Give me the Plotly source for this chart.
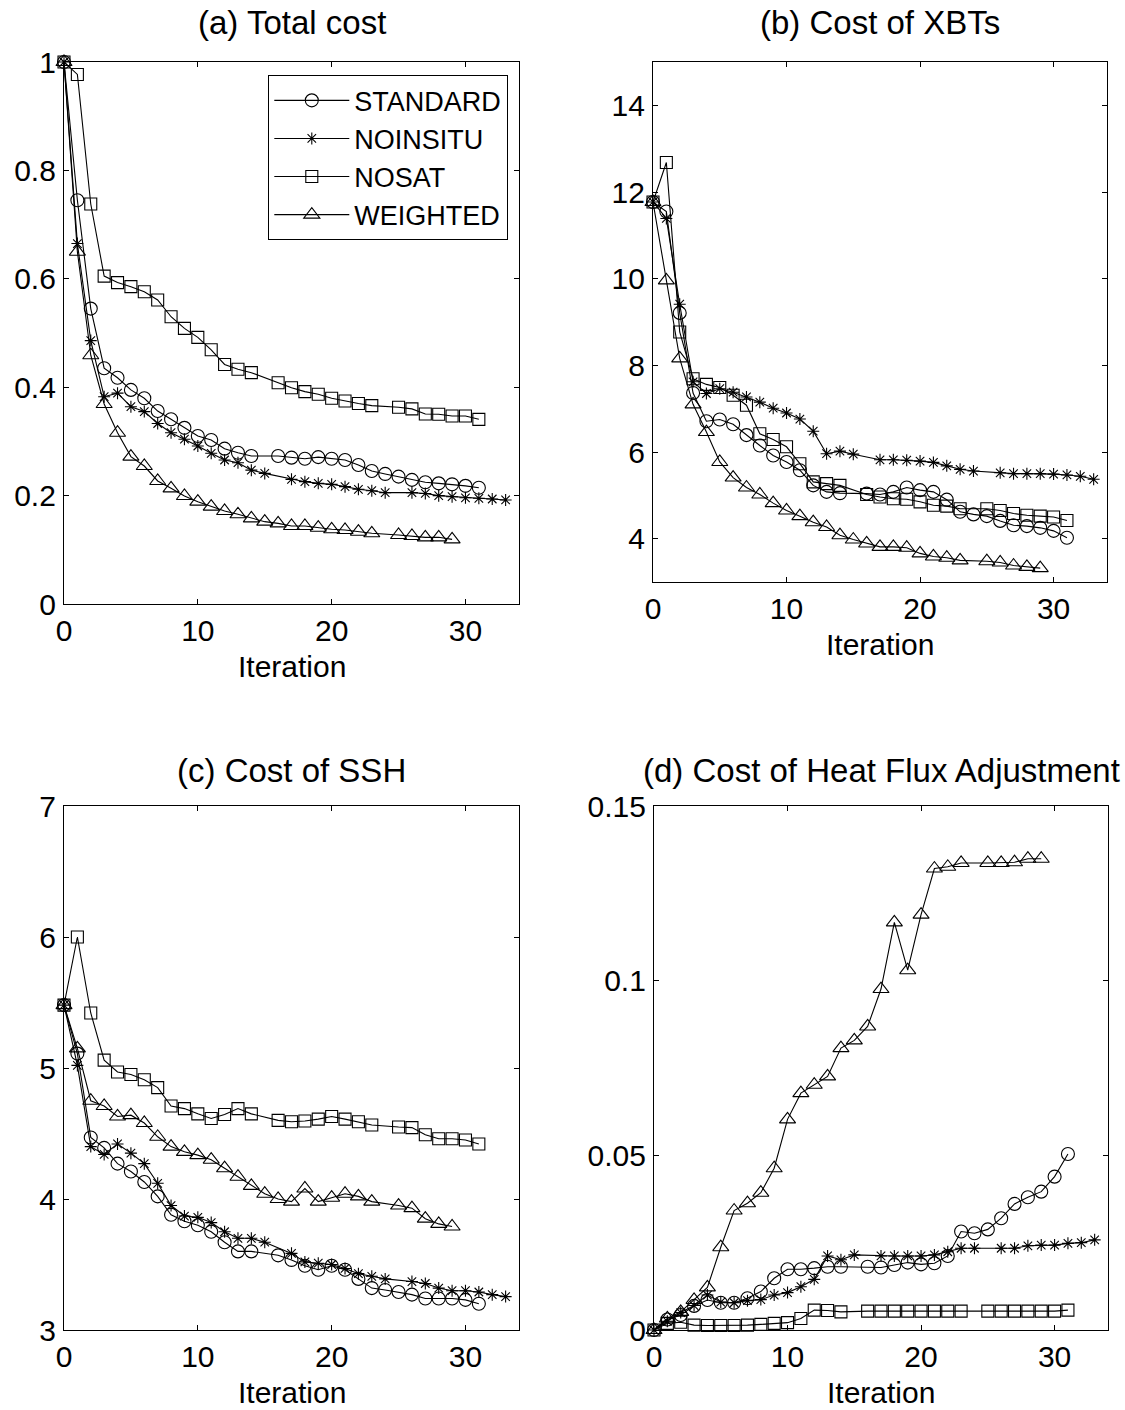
import plotly.graph_objects as go

W, H = 1125, 1410
FONT = "Liberation Sans, Arial, Helvetica, sans-serif"

# iteration indices at which each run has a stored value
it_standard = list(range(0, 15)) + list(range(16, 32))
it_noinsitu = list(range(0, 16)) + list(range(17, 25)) + list(range(26, 34))
it_nosat = list(range(0, 15)) + list(range(16, 24)) + list(range(25, 32))
it_weighted = list(range(0, 24)) + list(range(25, 30))

series_names = ["STANDARD", "NOINSITU", "NOSAT", "WEIGHTED"]

# (a) Total cost (normalised)
total_standard = [1.0, 0.745, 0.545, 0.435, 0.4175, 0.395, 0.3795, 0.356, 0.341, 0.325, 0.31, 0.3026, 0.2866, 0.279, 0.273,
                  0.273, 0.270, 0.268, 0.271, 0.268, 0.2657, 0.2565, 0.2454, 0.24, 0.235, 0.229, 0.2245, 0.2226, 0.2208, 0.218, 0.2146]
total_noinsitu = [1.0, 0.665, 0.486, 0.3825, 0.389, 0.364, 0.355, 0.333, 0.316, 0.304, 0.2915, 0.278, 0.2657, 0.2607, 0.247, 0.241,
                  0.23, 0.2257, 0.2226, 0.2208, 0.2165, 0.2116, 0.209, 0.2054,
                  0.2054, 0.204, 0.1999, 0.198, 0.196, 0.195, 0.1937, 0.192]
total_nosat = [1.0, 0.977, 0.738, 0.605, 0.593, 0.5855, 0.576, 0.561, 0.530, 0.5086, 0.492, 0.469, 0.442, 0.433, 0.4268,
               0.4083, 0.399, 0.3918, 0.387, 0.3795, 0.3745, 0.370, 0.366,
               0.363, 0.36, 0.3506, 0.35, 0.347, 0.347, 0.3407]
total_weighted = [1.0, 0.65, 0.459, 0.369, 0.316, 0.272, 0.2546, 0.227, 0.2134, 0.1993, 0.1888, 0.1796, 0.1716, 0.1655, 0.158,
                  0.1519, 0.1488, 0.1439, 0.1439, 0.1408, 0.1378, 0.1365, 0.1334, 0.1304,
                  0.1273, 0.1255, 0.123, 0.123, 0.1193]

# (b) Cost of XBTs
xbt_standard = [11.77, 11.55, 9.21, 7.36, 6.71, 6.75, 6.64, 6.39, 6.15, 5.92, 5.77, 5.58, 5.23, 5.08, 5.05,
                5.04, 5.02, 5.08, 5.18, 5.12, 5.08, 4.90, 4.62, 4.56, 4.52, 4.41, 4.31, 4.29, 4.25, 4.18, 4.02]
xbt_noinsitu = [11.77, 11.39, 9.41, 7.62, 7.35, 7.46, 7.38, 7.27, 7.15, 7.01, 6.90, 6.76, 6.48, 5.96, 6.02, 5.95,
                5.82, 5.82, 5.81, 5.79, 5.76, 5.68, 5.60, 5.56,
                5.52, 5.50, 5.50, 5.50, 5.49, 5.47, 5.44, 5.37]
xbt_nosat = [11.77, 12.68, 8.77, 7.69, 7.56, 7.49, 7.31, 7.08, 6.42, 6.29, 6.12, 5.73, 5.31, 5.27, 5.23,
             5.02, 4.96, 4.92, 4.91, 4.85, 4.77, 4.75, 4.69,
             4.69, 4.65, 4.58, 4.54, 4.52, 4.50, 4.42]
xbt_weighted = [11.77, 9.96, 8.16, 7.10, 6.46, 5.77, 5.41, 5.18, 5.02, 4.82, 4.65, 4.52, 4.38, 4.27, 4.08,
                3.98, 3.89, 3.81, 3.81, 3.79, 3.66, 3.59, 3.56, 3.50,
                3.48, 3.45, 3.38, 3.35, 3.32]

# (c) Cost of SSH
ssh_standard = [5.48, 5.11, 4.47, 4.39, 4.27, 4.21, 4.13, 4.02, 3.88, 3.83, 3.80, 3.75, 3.67, 3.60, 3.60,
                3.57, 3.535, 3.49, 3.46, 3.49, 3.46, 3.39, 3.32, 3.305, 3.29, 3.27, 3.24, 3.24, 3.24, 3.23, 3.20]
ssh_noinsitu = [5.48, 5.02, 4.40, 4.34, 4.42, 4.35, 4.27, 4.12, 3.95, 3.87, 3.86, 3.82, 3.75, 3.70, 3.70, 3.67,
                3.585, 3.52, 3.51, 3.50, 3.47, 3.43, 3.41, 3.39,
                3.37, 3.355, 3.32, 3.30, 3.30, 3.29, 3.27, 3.255]
ssh_nosat = [5.48, 6.0, 5.42, 5.06, 4.97, 4.95, 4.91, 4.85, 4.71, 4.69, 4.65, 4.615, 4.645, 4.69, 4.65,
             4.60, 4.59, 4.595, 4.61, 4.63, 4.61, 4.59, 4.565,
             4.55, 4.545, 4.49, 4.46, 4.46, 4.45, 4.42]
ssh_weighted = [5.48, 5.15, 4.75, 4.71, 4.63, 4.64, 4.58, 4.475, 4.40, 4.36, 4.335, 4.30, 4.235, 4.17, 4.10,
                4.04, 4.00, 3.98, 4.08, 3.98, 4.01, 4.04, 4.02, 3.98,
                3.95, 3.93, 3.85, 3.81, 3.79]

# (d) Cost of heat flux adjustment
hf_standard = [0.0, 0.003, 0.0043, 0.0069, 0.0086, 0.0078, 0.0078, 0.0091, 0.011, 0.0148, 0.0174, 0.0174, 0.0177, 0.0181, 0.0181,
               0.0181, 0.0179, 0.0186, 0.0193, 0.0188, 0.0191, 0.0212, 0.0282, 0.0277, 0.0288, 0.032, 0.0361, 0.038, 0.0396, 0.0439, 0.0504]
hf_noinsitu = [0.0, 0.0025, 0.005, 0.007, 0.010, 0.008, 0.0078, 0.0084, 0.0087, 0.010, 0.0107, 0.0124, 0.0145, 0.0212, 0.0201, 0.0215,
               0.0212, 0.0212, 0.0212, 0.0212, 0.0215, 0.0224, 0.0234, 0.0234,
               0.0234, 0.0234, 0.0241, 0.0243, 0.0243, 0.0248, 0.0250, 0.0258]
hf_nosat = [0.0, 0.0019, 0.0022, 0.0014, 0.0013, 0.0013, 0.0013, 0.0014, 0.0016, 0.0019, 0.0021, 0.0033, 0.0057, 0.0056, 0.0052,
            0.0054, 0.0054, 0.0054, 0.0054, 0.0054, 0.0054, 0.0054, 0.0054,
            0.0054, 0.0054, 0.0054, 0.0054, 0.0054, 0.0054, 0.0057]
hf_weighted = [0.0, 0.0033, 0.0052, 0.0086, 0.0122, 0.0237, 0.0342, 0.0363, 0.0393, 0.0463, 0.0603, 0.0678, 0.0702, 0.0726, 0.0807,
               0.0829, 0.0869, 0.0976, 0.1167, 0.1030, 0.1189, 0.1321, 0.1326, 0.1337,
               0.1337, 0.1337, 0.1339, 0.1349, 0.1349]

x_ticks = [0, 10, 20, 30]
x_range = [0, 34]

panels = [
    dict(title="(a) Total cost", data=[total_standard, total_noinsitu, total_nosat, total_weighted],
         yrange=[0, 1], yticks=[0, 0.2, 0.4, 0.6, 0.8, 1], yticktext=["0", "0.2", "0.4", "0.6", "0.8", "1"],
         box=(64, 519, 62, 604)),
    dict(title="(b) Cost of XBTs", data=[xbt_standard, xbt_noinsitu, xbt_nosat, xbt_weighted],
         yrange=[3, 15], yticks=[4, 6, 8, 10, 12, 14], yticktext=["4", "6", "8", "10", "12", "14"],
         box=(653, 1107, 62, 582)),
    dict(title="(c) Cost of SSH", data=[ssh_standard, ssh_noinsitu, ssh_nosat, ssh_weighted],
         yrange=[3, 7], yticks=[3, 4, 5, 6, 7], yticktext=["3", "4", "5", "6", "7"],
         box=(64, 519, 806, 1330)),
    dict(title="(d) Cost of Heat Flux Adjustment", data=[hf_standard, hf_noinsitu, hf_nosat, hf_weighted],
         yrange=[0, 0.15], yticks=[0, 0.05, 0.1, 0.15], yticktext=["0", "0.05", "0.1", "0.15"],
         box=(654, 1108, 806, 1330)),
]

iters = [it_standard, it_noinsitu, it_nosat, it_weighted]
markers = [
    dict(symbol="circle-open", size=13),
    dict(symbol="asterisk-open", size=10),
    dict(symbol="square-open", size=12),
    dict(symbol="triangle-up-open", size=14),
]

TICK_SIZE = 30
TITLE_SIZE = 33
XLABEL_SIZE = 30

fig = go.Figure()
layout = dict(
    width=W, height=H,
    margin=dict(l=0, r=0, t=0, b=0),
    paper_bgcolor="white", plot_bgcolor="white",
    font=dict(family=FONT, size=TICK_SIZE, color="black"),
    annotations=[],
)

for k, p in enumerate(panels):
    n = "" if k == 0 else str(k + 1)
    x0, x1, y0, y1 = p["box"]
    for s, (name, vals) in enumerate(zip(series_names, p["data"])):
        fig.add_trace(go.Scatter(
            x=iters[s], y=vals, name=name, mode="lines+markers",
            xaxis="x" + n, yaxis="y" + n,
            line=dict(color="black", width=1.1),
            marker=dict(symbol=markers[s]["symbol"], size=markers[s]["size"], color="black",
                        line=dict(color="black", width=1.1)),
            cliponaxis=False,
            showlegend=(k == 0),
        ))
    common = dict(showline=True, linecolor="black", linewidth=1.3, mirror="ticks",
                  ticks="inside", ticklen=5, tickwidth=1, tickcolor="black",
                  showgrid=False, zeroline=False, automargin=False,
                  tickfont=dict(family=FONT, size=TICK_SIZE, color="black"))
    layout["xaxis" + n] = dict(common, domain=[x0 / W, x1 / W], range=x_range,
                               tickvals=x_ticks, anchor="y" + n, ticklabelstandoff=0)
    layout["yaxis" + n] = dict(common, domain=[1 - y1 / H, 1 - y0 / H], range=p["yrange"],
                               tickvals=p["yticks"], ticktext=p["yticktext"], anchor="x" + n,
                               ticklabelstandoff=1)
    cx = (x0 + x1) / 2 / W
    top_row = y0 < 400
    layout["annotations"].append(dict(
        text=p["title"], x=cx, y=1 - (22 if top_row else 771) / H, xref="paper", yref="paper",
        xanchor="center", yanchor="middle", showarrow=False,
        font=dict(family=FONT, size=TITLE_SIZE, color="black")))
    if top_row:
        label = dict(y=1 - (y1 + 62) / H, yanchor="middle")
    else:
        label = dict(y=0, yanchor="bottom")
    layout["annotations"].append(dict(
        text="Iteration", x=cx, xref="paper", yref="paper", xanchor="center",
        showarrow=False, borderpad=0,
        font=dict(family=FONT, size=XLABEL_SIZE, color="black"), **label))

layout["legend"] = dict(
    x=508 / W, xanchor="right", y=1 - 75 / H, yanchor="top",
    bgcolor="white", bordercolor="black", borderwidth=1.3,
    font=dict(family=FONT, size=27, color="black"),
    itemwidth=75, tracegroupgap=0,
)

fig.update_layout(**layout)
fig.write_html("out.html")
